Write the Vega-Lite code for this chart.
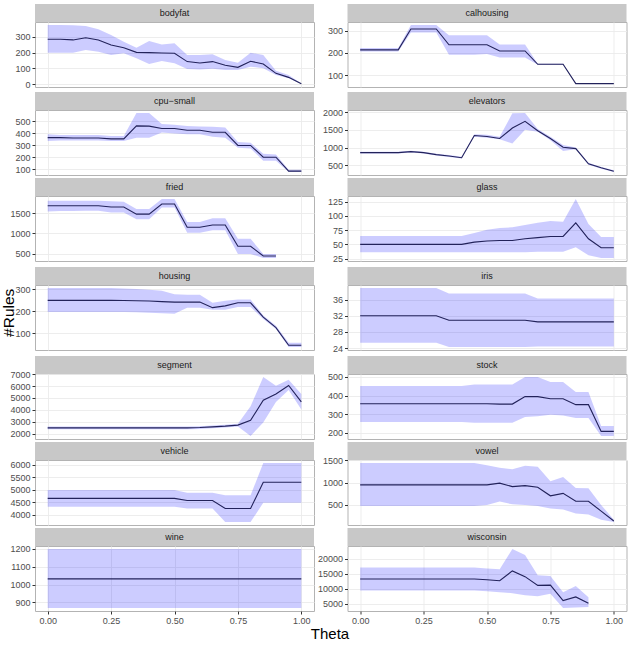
{
"$schema": "https://vega.github.io/schema/vega-lite/v6.json",
"padding": {"left": 1, "right": 4, "top": 4, "bottom": 0},
"title": {"text": "#Rules", "orient": "left", "anchor": "middle", "fontSize": 15.5, "fontWeight": "normal", "color": "#000000", "font": "Liberation Sans", "offset": -8.5, "dx": 10},
"datasets": {"d": [
{"d":"bodyfat","t":0,"m":283,"l":199,"h":373},{"d":"bodyfat","t":0.05,"m":283,"l":199,"h":373},{"d":"bodyfat","t":0.1,"m":279,"l":199,"h":371},{"d":"bodyfat","t":0.15,"m":293,"l":216,"h":367},{"d":"bodyfat","t":0.2,"m":279,"l":205,"h":346},{"d":"bodyfat","t":0.25,"m":247,"l":184,"h":310},{"d":"bodyfat","t":0.3,"m":230,"l":195,"h":268},{"d":"bodyfat","t":0.35,"m":201,"l":164,"h":230},{"d":"bodyfat","t":0.4,"m":199,"l":128,"h":272},{"d":"bodyfat","t":0.45,"m":197,"l":147,"h":251},{"d":"bodyfat","t":0.5,"m":195,"l":132,"h":258},{"d":"bodyfat","t":0.55,"m":143,"l":96,"h":184},{"d":"bodyfat","t":0.6,"m":134,"l":94,"h":184},{"d":"bodyfat","t":0.65,"m":143,"l":98,"h":189},{"d":"bodyfat","t":0.7,"m":120,"l":90,"h":153},{"d":"bodyfat","t":0.75,"m":107,"l":90,"h":136},{"d":"bodyfat","t":0.8,"m":145,"l":111,"h":199},{"d":"bodyfat","t":0.85,"m":128,"l":101,"h":184},{"d":"bodyfat","t":0.9,"m":69,"l":59,"h":86},{"d":"bodyfat","t":0.95,"m":44,"l":38,"h":59},{"d":"bodyfat","t":1,"m":4,"l":2,"h":6},
{"d":"cpu-small","t":0,"m":362,"l":334,"h":390},{"d":"cpu-small","t":0.05,"m":362,"l":339,"h":385},{"d":"cpu-small","t":0.1,"m":359,"l":339,"h":385},{"d":"cpu-small","t":0.15,"m":359,"l":339,"h":385},{"d":"cpu-small","t":0.2,"m":359,"l":339,"h":385},{"d":"cpu-small","t":0.25,"m":352,"l":334,"h":376},{"d":"cpu-small","t":0.3,"m":352,"l":334,"h":376},{"d":"cpu-small","t":0.35,"m":460,"l":362,"h":568},{"d":"cpu-small","t":0.4,"m":458,"l":362,"h":568},{"d":"cpu-small","t":0.45,"m":438,"l":404,"h":475},{"d":"cpu-small","t":0.5,"m":438,"l":396,"h":469},{"d":"cpu-small","t":0.55,"m":424,"l":390,"h":460},{"d":"cpu-small","t":0.6,"m":424,"l":390,"h":455},{"d":"cpu-small","t":0.65,"m":407,"l":370,"h":452},{"d":"cpu-small","t":0.7,"m":407,"l":362,"h":446},{"d":"cpu-small","t":0.75,"m":297,"l":277,"h":325},{"d":"cpu-small","t":0.8,"m":297,"l":272,"h":320},{"d":"cpu-small","t":0.85,"m":199,"l":170,"h":227},{"d":"cpu-small","t":0.9,"m":199,"l":170,"h":221},{"d":"cpu-small","t":0.95,"m":83,"l":75,"h":94},{"d":"cpu-small","t":1,"m":83,"l":75,"h":94},
{"d":"calhousing","t":0,"m":214,"l":206,"h":222},{"d":"calhousing","t":0.05,"m":214,"l":206,"h":222},{"d":"calhousing","t":0.1,"m":214,"l":206,"h":222},{"d":"calhousing","t":0.15,"m":214,"l":206,"h":222},{"d":"calhousing","t":0.2,"m":308,"l":292,"h":326},{"d":"calhousing","t":0.25,"m":308,"l":292,"h":326},{"d":"calhousing","t":0.3,"m":308,"l":292,"h":326},{"d":"calhousing","t":0.35,"m":237,"l":192,"h":280},{"d":"calhousing","t":0.4,"m":237,"l":192,"h":280},{"d":"calhousing","t":0.45,"m":237,"l":192,"h":280},{"d":"calhousing","t":0.5,"m":237,"l":195,"h":280},{"d":"calhousing","t":0.55,"m":209,"l":180,"h":238},{"d":"calhousing","t":0.6,"m":209,"l":180,"h":238},{"d":"calhousing","t":0.65,"m":209,"l":180,"h":238},{"d":"calhousing","t":0.7,"m":149,"l":147,"h":151},{"d":"calhousing","t":0.75,"m":149,"l":147,"h":151},{"d":"calhousing","t":0.8,"m":149,"l":147,"h":151},{"d":"calhousing","t":0.85,"m":62,"l":60,"h":64},{"d":"calhousing","t":0.9,"m":62,"l":60,"h":64},{"d":"calhousing","t":0.95,"m":62,"l":60,"h":64},{"d":"calhousing","t":1,"m":62,"l":60,"h":64},
{"d":"elevators","t":0,"m":861,"l":836,"h":886},{"d":"elevators","t":0.05,"m":861,"l":836,"h":886},{"d":"elevators","t":0.1,"m":861,"l":836,"h":886},{"d":"elevators","t":0.15,"m":861,"l":836,"h":886},{"d":"elevators","t":0.2,"m":889,"l":864,"h":914},{"d":"elevators","t":0.25,"m":861,"l":836,"h":886},{"d":"elevators","t":0.3,"m":804,"l":779,"h":829},{"d":"elevators","t":0.35,"m":766,"l":741,"h":791},{"d":"elevators","t":0.4,"m":718,"l":693,"h":743},{"d":"elevators","t":0.45,"m":1345,"l":1310,"h":1383},{"d":"elevators","t":0.5,"m":1317,"l":1280,"h":1364},{"d":"elevators","t":0.55,"m":1260,"l":1240,"h":1307},{"d":"elevators","t":0.6,"m":1554,"l":1117,"h":1972},{"d":"elevators","t":0.65,"m":1744,"l":1507,"h":1981},{"d":"elevators","t":0.7,"m":1478,"l":1450,"h":1525},{"d":"elevators","t":0.75,"m":1260,"l":1212,"h":1307},{"d":"elevators","t":0.8,"m":1013,"l":908,"h":1079},{"d":"elevators","t":0.85,"m":975,"l":956,"h":1003},{"d":"elevators","t":0.9,"m":547,"l":522,"h":572},{"d":"elevators","t":0.95,"m":434,"l":409,"h":459},{"d":"elevators","t":1,"m":338,"l":313,"h":363},
{"d":"fried","t":0,"m":1683,"l":1542,"h":1808},{"d":"fried","t":0.05,"m":1683,"l":1550,"h":1808},{"d":"fried","t":0.1,"m":1683,"l":1550,"h":1808},{"d":"fried","t":0.15,"m":1683,"l":1558,"h":1808},{"d":"fried","t":0.2,"m":1683,"l":1558,"h":1808},{"d":"fried","t":0.25,"m":1650,"l":1517,"h":1792},{"d":"fried","t":0.3,"m":1650,"l":1517,"h":1783},{"d":"fried","t":0.35,"m":1475,"l":1350,"h":1600},{"d":"fried","t":0.4,"m":1475,"l":1350,"h":1600},{"d":"fried","t":0.45,"m":1725,"l":1642,"h":1850},{"d":"fried","t":0.5,"m":1725,"l":1642,"h":1850},{"d":"fried","t":0.55,"m":1150,"l":1017,"h":1283},{"d":"fried","t":0.6,"m":1150,"l":1017,"h":1283},{"d":"fried","t":0.65,"m":1208,"l":1075,"h":1375},{"d":"fried","t":0.7,"m":1208,"l":1075,"h":1375},{"d":"fried","t":0.75,"m":683,"l":492,"h":867},{"d":"fried","t":0.8,"m":683,"l":492,"h":867},{"d":"fried","t":0.85,"m":442,"l":392,"h":492},{"d":"fried","t":0.9,"m":442,"l":392,"h":492},
{"d":"glass","t":0,"m":50,"l":36,"h":65},{"d":"glass","t":0.05,"m":50,"l":36,"h":65},{"d":"glass","t":0.1,"m":50,"l":36,"h":65},{"d":"glass","t":0.15,"m":50,"l":36,"h":65},{"d":"glass","t":0.2,"m":50,"l":36,"h":65},{"d":"glass","t":0.25,"m":50,"l":36,"h":65},{"d":"glass","t":0.3,"m":50,"l":36,"h":65},{"d":"glass","t":0.35,"m":50,"l":36,"h":65},{"d":"glass","t":0.4,"m":50,"l":36,"h":65},{"d":"glass","t":0.45,"m":54,"l":36,"h":70},{"d":"glass","t":0.5,"m":56,"l":36,"h":76},{"d":"glass","t":0.55,"m":57,"l":36,"h":79},{"d":"glass","t":0.6,"m":57,"l":36,"h":80},{"d":"glass","t":0.65,"m":60,"l":36,"h":84},{"d":"glass","t":0.7,"m":62,"l":37,"h":88},{"d":"glass","t":0.75,"m":64,"l":37,"h":91},{"d":"glass","t":0.8,"m":64,"l":37,"h":90},{"d":"glass","t":0.85,"m":88,"l":45,"h":130},{"d":"glass","t":0.9,"m":60,"l":31,"h":86},{"d":"glass","t":0.95,"m":44,"l":26,"h":63},{"d":"glass","t":1,"m":44,"l":26,"h":63},
{"d":"housing","t":0,"m":249,"l":196,"h":305},{"d":"housing","t":0.05,"m":249,"l":196,"h":305},{"d":"housing","t":0.1,"m":249,"l":196,"h":305},{"d":"housing","t":0.15,"m":249,"l":196,"h":305},{"d":"housing","t":0.2,"m":249,"l":196,"h":305},{"d":"housing","t":0.25,"m":249,"l":196,"h":305},{"d":"housing","t":0.3,"m":248,"l":196,"h":303},{"d":"housing","t":0.35,"m":247,"l":195,"h":300},{"d":"housing","t":0.4,"m":246,"l":193,"h":297},{"d":"housing","t":0.45,"m":243,"l":191,"h":292},{"d":"housing","t":0.5,"m":241,"l":188,"h":277},{"d":"housing","t":0.55,"m":241,"l":215,"h":274},{"d":"housing","t":0.6,"m":241,"l":215,"h":274},{"d":"housing","t":0.65,"m":216,"l":207,"h":238},{"d":"housing","t":0.7,"m":224,"l":207,"h":247},{"d":"housing","t":0.75,"m":238,"l":219,"h":253},{"d":"housing","t":0.8,"m":238,"l":219,"h":253},{"d":"housing","t":0.85,"m":173,"l":165,"h":181},{"d":"housing","t":0.9,"m":126,"l":119,"h":134},{"d":"housing","t":0.95,"m":46,"l":38,"h":57},{"d":"housing","t":1,"m":46,"l":38,"h":57},
{"d":"iris","t":0,"m":32,"l":25.3,"h":38.9},{"d":"iris","t":0.05,"m":32,"l":25.3,"h":38.9},{"d":"iris","t":0.1,"m":32,"l":25.3,"h":38.9},{"d":"iris","t":0.15,"m":32,"l":25.3,"h":38.9},{"d":"iris","t":0.2,"m":32,"l":25.3,"h":38.9},{"d":"iris","t":0.25,"m":32,"l":25.3,"h":38.9},{"d":"iris","t":0.3,"m":32,"l":25.3,"h":38.9},{"d":"iris","t":0.35,"m":30.9,"l":24.25,"h":37.5},{"d":"iris","t":0.4,"m":30.9,"l":24.25,"h":37.5},{"d":"iris","t":0.45,"m":30.9,"l":24.25,"h":37.5},{"d":"iris","t":0.5,"m":30.9,"l":24.25,"h":37.5},{"d":"iris","t":0.55,"m":30.9,"l":24.25,"h":37.5},{"d":"iris","t":0.6,"m":30.9,"l":24.25,"h":37.5},{"d":"iris","t":0.65,"m":30.9,"l":24.25,"h":37.5},{"d":"iris","t":0.7,"m":30.5,"l":24.4,"h":36.3},{"d":"iris","t":0.75,"m":30.5,"l":24.4,"h":36.3},{"d":"iris","t":0.8,"m":30.5,"l":24.4,"h":36.3},{"d":"iris","t":0.85,"m":30.5,"l":24.4,"h":36.3},{"d":"iris","t":0.9,"m":30.5,"l":24.4,"h":36.3},{"d":"iris","t":0.95,"m":30.5,"l":24.4,"h":36.3},{"d":"iris","t":1,"m":30.5,"l":24.4,"h":36.3},
{"d":"segment","t":0,"m":2490,"l":2373,"h":2600},{"d":"segment","t":0.05,"m":2490,"l":2373,"h":2600},{"d":"segment","t":0.1,"m":2490,"l":2373,"h":2600},{"d":"segment","t":0.15,"m":2490,"l":2373,"h":2600},{"d":"segment","t":0.2,"m":2490,"l":2373,"h":2600},{"d":"segment","t":0.25,"m":2490,"l":2373,"h":2600},{"d":"segment","t":0.3,"m":2490,"l":2373,"h":2600},{"d":"segment","t":0.35,"m":2490,"l":2373,"h":2600},{"d":"segment","t":0.4,"m":2490,"l":2373,"h":2600},{"d":"segment","t":0.45,"m":2490,"l":2373,"h":2600},{"d":"segment","t":0.5,"m":2490,"l":2373,"h":2600},{"d":"segment","t":0.55,"m":2490,"l":2373,"h":2600},{"d":"segment","t":0.6,"m":2517,"l":2400,"h":2630},{"d":"segment","t":0.65,"m":2575,"l":2460,"h":2690},{"d":"segment","t":0.7,"m":2632,"l":2520,"h":2740},{"d":"segment","t":0.75,"m":2718,"l":2600,"h":2833},{"d":"segment","t":0.8,"m":3120,"l":1800,"h":4300},{"d":"segment","t":0.85,"m":4816,"l":2950,"h":6770},{"d":"segment","t":0.9,"m":5333,"l":4672,"h":6023},{"d":"segment","t":0.95,"m":6052,"l":5678,"h":6540},{"d":"segment","t":1,"m":4672,"l":4040,"h":5333},
{"d":"stock","t":0,"m":356,"l":257,"h":451},{"d":"stock","t":0.05,"m":356,"l":257,"h":451},{"d":"stock","t":0.1,"m":356,"l":257,"h":451},{"d":"stock","t":0.15,"m":356,"l":257,"h":451},{"d":"stock","t":0.2,"m":356,"l":257,"h":451},{"d":"stock","t":0.25,"m":356,"l":257,"h":451},{"d":"stock","t":0.3,"m":356,"l":257,"h":451},{"d":"stock","t":0.35,"m":356,"l":257,"h":451},{"d":"stock","t":0.4,"m":356,"l":257,"h":451},{"d":"stock","t":0.45,"m":356,"l":254,"h":459},{"d":"stock","t":0.5,"m":356,"l":254,"h":459},{"d":"stock","t":0.55,"m":354,"l":254,"h":459},{"d":"stock","t":0.6,"m":354,"l":254,"h":460},{"d":"stock","t":0.65,"m":394,"l":284,"h":500},{"d":"stock","t":0.7,"m":394,"l":288,"h":500},{"d":"stock","t":0.75,"m":383,"l":297,"h":473},{"d":"stock","t":0.8,"m":383,"l":293,"h":473},{"d":"stock","t":0.85,"m":351,"l":279,"h":419},{"d":"stock","t":0.9,"m":351,"l":279,"h":419},{"d":"stock","t":0.95,"m":207,"l":182,"h":236},{"d":"stock","t":1,"m":207,"l":182,"h":236},
{"d":"vehicle","t":0,"m":4658,"l":4322,"h":4993},{"d":"vehicle","t":0.05,"m":4658,"l":4322,"h":4993},{"d":"vehicle","t":0.1,"m":4658,"l":4322,"h":4993},{"d":"vehicle","t":0.15,"m":4658,"l":4322,"h":4993},{"d":"vehicle","t":0.2,"m":4658,"l":4322,"h":4993},{"d":"vehicle","t":0.25,"m":4658,"l":4322,"h":4993},{"d":"vehicle","t":0.3,"m":4658,"l":4322,"h":4993},{"d":"vehicle","t":0.35,"m":4658,"l":4322,"h":4993},{"d":"vehicle","t":0.4,"m":4658,"l":4322,"h":4993},{"d":"vehicle","t":0.45,"m":4658,"l":4322,"h":4993},{"d":"vehicle","t":0.5,"m":4658,"l":4322,"h":4993},{"d":"vehicle","t":0.55,"m":4577,"l":4255,"h":4886},{"d":"vehicle","t":0.6,"m":4577,"l":4255,"h":4886},{"d":"vehicle","t":0.65,"m":4577,"l":4255,"h":4886},{"d":"vehicle","t":0.7,"m":4255,"l":3718,"h":4779},{"d":"vehicle","t":0.75,"m":4255,"l":3718,"h":4779},{"d":"vehicle","t":0.8,"m":4255,"l":3718,"h":4779},{"d":"vehicle","t":0.85,"m":5302,"l":4483,"h":6067},{"d":"vehicle","t":0.9,"m":5302,"l":4483,"h":6067},{"d":"vehicle","t":0.95,"m":5302,"l":4483,"h":6067},{"d":"vehicle","t":1,"m":5302,"l":4483,"h":6067},
{"d":"vowel","t":0,"m":950,"l":477,"h":1442},{"d":"vowel","t":0.05,"m":950,"l":477,"h":1442},{"d":"vowel","t":0.1,"m":950,"l":477,"h":1442},{"d":"vowel","t":0.15,"m":950,"l":477,"h":1442},{"d":"vowel","t":0.2,"m":950,"l":477,"h":1442},{"d":"vowel","t":0.25,"m":950,"l":477,"h":1442},{"d":"vowel","t":0.3,"m":950,"l":477,"h":1442},{"d":"vowel","t":0.35,"m":950,"l":477,"h":1442},{"d":"vowel","t":0.4,"m":950,"l":477,"h":1442},{"d":"vowel","t":0.45,"m":950,"l":477,"h":1442},{"d":"vowel","t":0.5,"m":950,"l":500,"h":1393},{"d":"vowel","t":0.55,"m":989,"l":576,"h":1332},{"d":"vowel","t":0.6,"m":912,"l":515,"h":1302},{"d":"vowel","t":0.65,"m":935,"l":500,"h":1378},{"d":"vowel","t":0.7,"m":897,"l":477,"h":1355},{"d":"vowel","t":0.75,"m":706,"l":424,"h":1034},{"d":"vowel","t":0.8,"m":760,"l":401,"h":1126},{"d":"vowel","t":0.85,"m":584,"l":309,"h":882},{"d":"vowel","t":0.9,"m":584,"l":286,"h":874},{"d":"vowel","t":0.95,"m":363,"l":172,"h":500},{"d":"vowel","t":1,"m":141,"l":118,"h":172},
{"d":"wine","t":0,"m":1032,"l":868,"h":1200},{"d":"wine","t":0.05,"m":1032,"l":868,"h":1200},{"d":"wine","t":0.1,"m":1032,"l":868,"h":1200},{"d":"wine","t":0.15,"m":1032,"l":868,"h":1200},{"d":"wine","t":0.2,"m":1032,"l":868,"h":1200},{"d":"wine","t":0.25,"m":1032,"l":868,"h":1200},{"d":"wine","t":0.3,"m":1032,"l":868,"h":1200},{"d":"wine","t":0.35,"m":1032,"l":868,"h":1200},{"d":"wine","t":0.4,"m":1032,"l":868,"h":1200},{"d":"wine","t":0.45,"m":1032,"l":868,"h":1200},{"d":"wine","t":0.5,"m":1032,"l":868,"h":1200},{"d":"wine","t":0.55,"m":1032,"l":868,"h":1200},{"d":"wine","t":0.6,"m":1032,"l":868,"h":1200},{"d":"wine","t":0.65,"m":1032,"l":868,"h":1200},{"d":"wine","t":0.7,"m":1032,"l":868,"h":1200},{"d":"wine","t":0.75,"m":1032,"l":868,"h":1200},{"d":"wine","t":0.8,"m":1032,"l":868,"h":1200},{"d":"wine","t":0.85,"m":1032,"l":868,"h":1200},{"d":"wine","t":0.9,"m":1032,"l":868,"h":1200},{"d":"wine","t":0.95,"m":1032,"l":868,"h":1200},{"d":"wine","t":1,"m":1032,"l":868,"h":1200},
{"d":"wisconsin","t":0,"m":13277,"l":9474,"h":17080},{"d":"wisconsin","t":0.05,"m":13277,"l":9474,"h":17080},{"d":"wisconsin","t":0.1,"m":13277,"l":9474,"h":17080},{"d":"wisconsin","t":0.15,"m":13277,"l":9474,"h":17080},{"d":"wisconsin","t":0.2,"m":13277,"l":9474,"h":17080},{"d":"wisconsin","t":0.25,"m":13277,"l":9474,"h":17080},{"d":"wisconsin","t":0.3,"m":13277,"l":9474,"h":17080},{"d":"wisconsin","t":0.35,"m":13277,"l":9474,"h":17080},{"d":"wisconsin","t":0.4,"m":13277,"l":9474,"h":17080},{"d":"wisconsin","t":0.45,"m":13277,"l":9474,"h":17080},{"d":"wisconsin","t":0.5,"m":13054,"l":9250,"h":16745},{"d":"wisconsin","t":0.55,"m":12718,"l":8915,"h":16521},{"d":"wisconsin","t":0.6,"m":15962,"l":8580,"h":23233},{"d":"wisconsin","t":0.65,"m":14060,"l":7908,"h":21219},{"d":"wisconsin","t":0.7,"m":11152,"l":7573,"h":14508},{"d":"wisconsin","t":0.75,"m":11264,"l":8356,"h":14284},{"d":"wisconsin","t":0.8,"m":6119,"l":3658,"h":8915},{"d":"wisconsin","t":0.85,"m":7349,"l":3881,"h":10928},{"d":"wisconsin","t":0.9,"m":5224,"l":3993,"h":7237}
]},
"data": {"name": "d"},
"spacing": 2,
"vconcat": [
{"hconcat": [
 {"vconcat": [
  {"data": {"values": [{"n": "bodyfat"}]}, "width": 279, "height": 18, "view": {"fill": "#c8c8c8", "stroke": null}, "mark": {"type": "text", "fontSize": 9, "color": "#1a1a1a"}, "encoding": {"text": {"field": "n"}}},
  {"width": 279, "height": 65, "transform": [{"filter": "datum.d === 'bodyfat'"}],
   "encoding": {"x": {"field": "t", "type": "quantitative", "scale": {"domain": [-0.05, 1.05], "nice": false, "zero": false}, "axis": {"values": [0, 0.25, 0.5, 0.75, 1], "labels": false, "ticks": false, "title": null}}},
   "layer": [
    {"mark": {"type": "area", "color": "#0000ff", "opacity": 0.2}, "encoding": {"y": {"field": "l", "type": "quantitative", "scale": {"zero": false, "nice": false, "padding": 2.95}, "axis": {"values": [0, 100, 200, 300], "title": null, "minExtent": 26, "maxExtent": 26}}, "y2": {"field": "h"}}},
    {"mark": {"type": "line", "color": "#22225a", "strokeWidth": 1.1}, "encoding": {"y": {"field": "m", "type": "quantitative", "axis": {"values": [0, 100, 200, 300], "title": null, "minExtent": 26, "maxExtent": 26}}}}
   ]}
 ], "spacing": 0, "bounds": "flush"},
 {"vconcat": [
  {"data": {"values": [{"n": "calhousing"}]}, "width": 279, "height": 18, "view": {"fill": "#c8c8c8", "stroke": null}, "mark": {"type": "text", "fontSize": 9, "color": "#1a1a1a"}, "encoding": {"text": {"field": "n"}}},
  {"width": 279, "height": 65, "transform": [{"filter": "datum.d === 'calhousing'"}],
   "encoding": {"x": {"field": "t", "type": "quantitative", "scale": {"domain": [-0.05, 1.05], "nice": false, "zero": false}, "axis": {"values": [0, 0.25, 0.5, 0.75, 1], "labels": false, "ticks": false, "title": null}}},
   "layer": [
    {"mark": {"type": "area", "color": "#0000ff", "opacity": 0.2}, "encoding": {"y": {"field": "l", "type": "quantitative", "scale": {"zero": false, "nice": false, "padding": 2.95}, "axis": {"values": [100, 200, 300], "title": null, "minExtent": 38, "maxExtent": 38}}, "y2": {"field": "h"}}},
    {"mark": {"type": "line", "color": "#22225a", "strokeWidth": 1.1}, "encoding": {"y": {"field": "m", "type": "quantitative", "axis": {"values": [100, 200, 300], "title": null, "minExtent": 38, "maxExtent": 38}}}}
   ]}
 ], "spacing": 0, "bounds": "flush"}
], "spacing": -6.5},
{"hconcat": [
 {"vconcat": [
  {"data": {"values": [{"n": "cpu−small"}]}, "width": 279, "height": 18, "view": {"fill": "#c8c8c8", "stroke": null}, "mark": {"type": "text", "fontSize": 9, "color": "#1a1a1a"}, "encoding": {"text": {"field": "n"}}},
  {"width": 279, "height": 65, "transform": [{"filter": "datum.d === 'cpu-small'"}],
   "encoding": {"x": {"field": "t", "type": "quantitative", "scale": {"domain": [-0.05, 1.05], "nice": false, "zero": false}, "axis": {"values": [0, 0.25, 0.5, 0.75, 1], "labels": false, "ticks": false, "title": null}}},
   "layer": [
    {"mark": {"type": "area", "color": "#0000ff", "opacity": 0.2}, "encoding": {"y": {"field": "l", "type": "quantitative", "scale": {"zero": false, "nice": false, "padding": 2.95}, "axis": {"values": [100, 200, 300, 400, 500], "title": null, "minExtent": 26, "maxExtent": 26}}, "y2": {"field": "h"}}},
    {"mark": {"type": "line", "color": "#22225a", "strokeWidth": 1.1}, "encoding": {"y": {"field": "m", "type": "quantitative", "axis": {"values": [100, 200, 300, 400, 500], "title": null, "minExtent": 26, "maxExtent": 26}}}}
   ]}
 ], "spacing": 0, "bounds": "flush"},
 {"vconcat": [
  {"data": {"values": [{"n": "elevators"}]}, "width": 279, "height": 18, "view": {"fill": "#c8c8c8", "stroke": null}, "mark": {"type": "text", "fontSize": 9, "color": "#1a1a1a"}, "encoding": {"text": {"field": "n"}}},
  {"width": 279, "height": 65, "transform": [{"filter": "datum.d === 'elevators'"}],
   "encoding": {"x": {"field": "t", "type": "quantitative", "scale": {"domain": [-0.05, 1.05], "nice": false, "zero": false}, "axis": {"values": [0, 0.25, 0.5, 0.75, 1], "labels": false, "ticks": false, "title": null}}},
   "layer": [
    {"mark": {"type": "area", "color": "#0000ff", "opacity": 0.2}, "encoding": {"y": {"field": "l", "type": "quantitative", "scale": {"zero": false, "nice": false, "padding": 2.95}, "axis": {"values": [500, 1000, 1500, 2000], "title": null, "minExtent": 38, "maxExtent": 38}}, "y2": {"field": "h"}}},
    {"mark": {"type": "line", "color": "#22225a", "strokeWidth": 1.1}, "encoding": {"y": {"field": "m", "type": "quantitative", "axis": {"values": [500, 1000, 1500, 2000], "title": null, "minExtent": 38, "maxExtent": 38}}}}
   ]}
 ], "spacing": 0, "bounds": "flush"}
], "spacing": -6.5},
{"hconcat": [
 {"vconcat": [
  {"data": {"values": [{"n": "fried"}]}, "width": 279, "height": 18, "view": {"fill": "#c8c8c8", "stroke": null}, "mark": {"type": "text", "fontSize": 9, "color": "#1a1a1a"}, "encoding": {"text": {"field": "n"}}},
  {"width": 279, "height": 65, "transform": [{"filter": "datum.d === 'fried'"}],
   "encoding": {"x": {"field": "t", "type": "quantitative", "scale": {"domain": [-0.05, 1.05], "nice": false, "zero": false}, "axis": {"values": [0, 0.25, 0.5, 0.75, 1], "labels": false, "ticks": false, "title": null}}},
   "layer": [
    {"mark": {"type": "area", "color": "#0000ff", "opacity": 0.2}, "encoding": {"y": {"field": "l", "type": "quantitative", "scale": {"zero": false, "nice": false, "padding": 2.95}, "axis": {"values": [500, 1000, 1500], "title": null, "minExtent": 26, "maxExtent": 26}}, "y2": {"field": "h"}}},
    {"mark": {"type": "line", "color": "#22225a", "strokeWidth": 1.1}, "encoding": {"y": {"field": "m", "type": "quantitative", "axis": {"values": [500, 1000, 1500], "title": null, "minExtent": 26, "maxExtent": 26}}}}
   ]}
 ], "spacing": 0, "bounds": "flush"},
 {"vconcat": [
  {"data": {"values": [{"n": "glass"}]}, "width": 279, "height": 18, "view": {"fill": "#c8c8c8", "stroke": null}, "mark": {"type": "text", "fontSize": 9, "color": "#1a1a1a"}, "encoding": {"text": {"field": "n"}}},
  {"width": 279, "height": 65, "transform": [{"filter": "datum.d === 'glass'"}],
   "encoding": {"x": {"field": "t", "type": "quantitative", "scale": {"domain": [-0.05, 1.05], "nice": false, "zero": false}, "axis": {"values": [0, 0.25, 0.5, 0.75, 1], "labels": false, "ticks": false, "title": null}}},
   "layer": [
    {"mark": {"type": "area", "color": "#0000ff", "opacity": 0.2}, "encoding": {"y": {"field": "l", "type": "quantitative", "scale": {"zero": false, "nice": false, "padding": 2.95}, "axis": {"values": [25, 50, 75, 100, 125], "title": null, "minExtent": 38, "maxExtent": 38}}, "y2": {"field": "h"}}},
    {"mark": {"type": "line", "color": "#22225a", "strokeWidth": 1.1}, "encoding": {"y": {"field": "m", "type": "quantitative", "axis": {"values": [25, 50, 75, 100, 125], "title": null, "minExtent": 38, "maxExtent": 38}}}}
   ]}
 ], "spacing": 0, "bounds": "flush"}
], "spacing": -6.5},
{"hconcat": [
 {"vconcat": [
  {"data": {"values": [{"n": "housing"}]}, "width": 279, "height": 18, "view": {"fill": "#c8c8c8", "stroke": null}, "mark": {"type": "text", "fontSize": 9, "color": "#1a1a1a"}, "encoding": {"text": {"field": "n"}}},
  {"width": 279, "height": 65, "transform": [{"filter": "datum.d === 'housing'"}],
   "encoding": {"x": {"field": "t", "type": "quantitative", "scale": {"domain": [-0.05, 1.05], "nice": false, "zero": false}, "axis": {"values": [0, 0.25, 0.5, 0.75, 1], "labels": false, "ticks": false, "title": null}}},
   "layer": [
    {"mark": {"type": "area", "color": "#0000ff", "opacity": 0.2}, "encoding": {"y": {"field": "l", "type": "quantitative", "scale": {"zero": false, "nice": false, "padding": 2.95}, "axis": {"values": [100, 200, 300], "title": null, "minExtent": 26, "maxExtent": 26}}, "y2": {"field": "h"}}},
    {"mark": {"type": "line", "color": "#22225a", "strokeWidth": 1.1}, "encoding": {"y": {"field": "m", "type": "quantitative", "axis": {"values": [100, 200, 300], "title": null, "minExtent": 26, "maxExtent": 26}}}}
   ]}
 ], "spacing": 0, "bounds": "flush"},
 {"vconcat": [
  {"data": {"values": [{"n": "iris"}]}, "width": 279, "height": 18, "view": {"fill": "#c8c8c8", "stroke": null}, "mark": {"type": "text", "fontSize": 9, "color": "#1a1a1a"}, "encoding": {"text": {"field": "n"}}},
  {"width": 279, "height": 65, "transform": [{"filter": "datum.d === 'iris'"}],
   "encoding": {"x": {"field": "t", "type": "quantitative", "scale": {"domain": [-0.05, 1.05], "nice": false, "zero": false}, "axis": {"values": [0, 0.25, 0.5, 0.75, 1], "labels": false, "ticks": false, "title": null}}},
   "layer": [
    {"mark": {"type": "area", "color": "#0000ff", "opacity": 0.2}, "encoding": {"y": {"field": "l", "type": "quantitative", "scale": {"zero": false, "nice": false, "padding": 2.95}, "axis": {"values": [24, 28, 32, 36], "title": null, "minExtent": 38, "maxExtent": 38}}, "y2": {"field": "h"}}},
    {"mark": {"type": "line", "color": "#22225a", "strokeWidth": 1.1}, "encoding": {"y": {"field": "m", "type": "quantitative", "axis": {"values": [24, 28, 32, 36], "title": null, "minExtent": 38, "maxExtent": 38}}}}
   ]}
 ], "spacing": 0, "bounds": "flush"}
], "spacing": -6.5},
{"hconcat": [
 {"vconcat": [
  {"data": {"values": [{"n": "segment"}]}, "width": 279, "height": 18, "view": {"fill": "#c8c8c8", "stroke": null}, "mark": {"type": "text", "fontSize": 9, "color": "#1a1a1a"}, "encoding": {"text": {"field": "n"}}},
  {"width": 279, "height": 65, "transform": [{"filter": "datum.d === 'segment'"}],
   "encoding": {"x": {"field": "t", "type": "quantitative", "scale": {"domain": [-0.05, 1.05], "nice": false, "zero": false}, "axis": {"values": [0, 0.25, 0.5, 0.75, 1], "labels": false, "ticks": false, "title": null}}},
   "layer": [
    {"mark": {"type": "area", "color": "#0000ff", "opacity": 0.2}, "encoding": {"y": {"field": "l", "type": "quantitative", "scale": {"zero": false, "nice": false, "padding": 2.95}, "axis": {"values": [2000, 3000, 4000, 5000, 6000, 7000], "title": null, "minExtent": 26, "maxExtent": 26}}, "y2": {"field": "h"}}},
    {"mark": {"type": "line", "color": "#22225a", "strokeWidth": 1.1}, "encoding": {"y": {"field": "m", "type": "quantitative", "axis": {"values": [2000, 3000, 4000, 5000, 6000, 7000], "title": null, "minExtent": 26, "maxExtent": 26}}}}
   ]}
 ], "spacing": 0, "bounds": "flush"},
 {"vconcat": [
  {"data": {"values": [{"n": "stock"}]}, "width": 279, "height": 18, "view": {"fill": "#c8c8c8", "stroke": null}, "mark": {"type": "text", "fontSize": 9, "color": "#1a1a1a"}, "encoding": {"text": {"field": "n"}}},
  {"width": 279, "height": 65, "transform": [{"filter": "datum.d === 'stock'"}],
   "encoding": {"x": {"field": "t", "type": "quantitative", "scale": {"domain": [-0.05, 1.05], "nice": false, "zero": false}, "axis": {"values": [0, 0.25, 0.5, 0.75, 1], "labels": false, "ticks": false, "title": null}}},
   "layer": [
    {"mark": {"type": "area", "color": "#0000ff", "opacity": 0.2}, "encoding": {"y": {"field": "l", "type": "quantitative", "scale": {"zero": false, "nice": false, "padding": 2.95}, "axis": {"values": [200, 300, 400, 500], "title": null, "minExtent": 38, "maxExtent": 38}}, "y2": {"field": "h"}}},
    {"mark": {"type": "line", "color": "#22225a", "strokeWidth": 1.1}, "encoding": {"y": {"field": "m", "type": "quantitative", "axis": {"values": [200, 300, 400, 500], "title": null, "minExtent": 38, "maxExtent": 38}}}}
   ]}
 ], "spacing": 0, "bounds": "flush"}
], "spacing": -6.5},
{"hconcat": [
 {"vconcat": [
  {"data": {"values": [{"n": "vehicle"}]}, "width": 279, "height": 18, "view": {"fill": "#c8c8c8", "stroke": null}, "mark": {"type": "text", "fontSize": 9, "color": "#1a1a1a"}, "encoding": {"text": {"field": "n"}}},
  {"width": 279, "height": 65, "transform": [{"filter": "datum.d === 'vehicle'"}],
   "encoding": {"x": {"field": "t", "type": "quantitative", "scale": {"domain": [-0.05, 1.05], "nice": false, "zero": false}, "axis": {"values": [0, 0.25, 0.5, 0.75, 1], "labels": false, "ticks": false, "title": null}}},
   "layer": [
    {"mark": {"type": "area", "color": "#0000ff", "opacity": 0.2}, "encoding": {"y": {"field": "l", "type": "quantitative", "scale": {"zero": false, "nice": false, "padding": 2.95}, "axis": {"values": [4000, 4500, 5000, 5500, 6000], "title": null, "minExtent": 26, "maxExtent": 26}}, "y2": {"field": "h"}}},
    {"mark": {"type": "line", "color": "#22225a", "strokeWidth": 1.1}, "encoding": {"y": {"field": "m", "type": "quantitative", "axis": {"values": [4000, 4500, 5000, 5500, 6000], "title": null, "minExtent": 26, "maxExtent": 26}}}}
   ]}
 ], "spacing": 0, "bounds": "flush"},
 {"vconcat": [
  {"data": {"values": [{"n": "vowel"}]}, "width": 279, "height": 18, "view": {"fill": "#c8c8c8", "stroke": null}, "mark": {"type": "text", "fontSize": 9, "color": "#1a1a1a"}, "encoding": {"text": {"field": "n"}}},
  {"width": 279, "height": 65, "transform": [{"filter": "datum.d === 'vowel'"}],
   "encoding": {"x": {"field": "t", "type": "quantitative", "scale": {"domain": [-0.05, 1.05], "nice": false, "zero": false}, "axis": {"values": [0, 0.25, 0.5, 0.75, 1], "labels": false, "ticks": false, "title": null}}},
   "layer": [
    {"mark": {"type": "area", "color": "#0000ff", "opacity": 0.2}, "encoding": {"y": {"field": "l", "type": "quantitative", "scale": {"zero": false, "nice": false, "padding": 2.95}, "axis": {"values": [500, 1000, 1500], "title": null, "minExtent": 38, "maxExtent": 38}}, "y2": {"field": "h"}}},
    {"mark": {"type": "line", "color": "#22225a", "strokeWidth": 1.1}, "encoding": {"y": {"field": "m", "type": "quantitative", "axis": {"values": [500, 1000, 1500], "title": null, "minExtent": 38, "maxExtent": 38}}}}
   ]}
 ], "spacing": 0, "bounds": "flush"}
], "spacing": -6.5},
{"hconcat": [
 {"vconcat": [
  {"data": {"values": [{"n": "wine"}]}, "width": 279, "height": 18, "view": {"fill": "#c8c8c8", "stroke": null}, "mark": {"type": "text", "fontSize": 9, "color": "#1a1a1a"}, "encoding": {"text": {"field": "n"}}},
  {"width": 279, "height": 65, "transform": [{"filter": "datum.d === 'wine'"}],
   "encoding": {"x": {"field": "t", "type": "quantitative", "scale": {"domain": [-0.05, 1.05], "nice": false, "zero": false}, "axis": {"values": [0, 0.25, 0.5, 0.75, 1], "format": ".2f", "title": null}}},
   "layer": [
    {"mark": {"type": "area", "color": "#0000ff", "opacity": 0.2}, "encoding": {"y": {"field": "l", "type": "quantitative", "scale": {"zero": false, "nice": false, "padding": 2.95}, "axis": {"values": [900, 1000, 1100, 1200], "title": null, "minExtent": 26, "maxExtent": 26}}, "y2": {"field": "h"}}},
    {"mark": {"type": "line", "color": "#22225a", "strokeWidth": 1.1}, "encoding": {"y": {"field": "m", "type": "quantitative", "axis": {"values": [900, 1000, 1100, 1200], "title": null, "minExtent": 26, "maxExtent": 26}}}}
   ]}
 ], "spacing": 0, "bounds": "flush"},
 {"vconcat": [
  {"data": {"values": [{"n": "wisconsin"}]}, "width": 279, "height": 18, "view": {"fill": "#c8c8c8", "stroke": null}, "mark": {"type": "text", "fontSize": 9, "color": "#1a1a1a"}, "encoding": {"text": {"field": "n"}}},
  {"width": 279, "height": 65, "transform": [{"filter": "datum.d === 'wisconsin'"}],
   "encoding": {"x": {"field": "t", "type": "quantitative", "scale": {"domain": [-0.05, 1.05], "nice": false, "zero": false}, "axis": {"values": [0, 0.25, 0.5, 0.75, 1], "format": ".2f", "title": "Theta", "titleX": -18, "titleFontSize": 15, "titleFontWeight": "normal", "titleColor": "#000000", "titlePadding": 1}}},
   "layer": [
    {"mark": {"type": "area", "color": "#0000ff", "opacity": 0.2}, "encoding": {"y": {"field": "l", "type": "quantitative", "scale": {"zero": false, "nice": false, "padding": 2.95}, "axis": {"values": [5000, 10000, 15000, 20000], "title": null, "minExtent": 38, "maxExtent": 38}}, "y2": {"field": "h"}}},
    {"mark": {"type": "line", "color": "#22225a", "strokeWidth": 1.1}, "encoding": {"y": {"field": "m", "type": "quantitative", "axis": {"values": [5000, 10000, 15000, 20000], "title": null, "minExtent": 38, "maxExtent": 38}}}}
   ]}
 ], "spacing": 0, "bounds": "flush"}
], "spacing": -6.5}
],
"config": {
 "font": "Liberation Sans",
 "numberFormat": "d",
 "view": {"stroke": "#b3b3b3", "strokeWidth": 1},
 "text": {"font": "Liberation Sans"},
 "axis": {"labelFont": "Liberation Sans", "titleFont": "Liberation Sans", "labelFontSize": 9, "labelColor": "#4d4d4d", "tickColor": "#333333", "tickSize": 3, "labelPadding": 2, "domain": false, "gridColor": "#ebebeb", "gridWidth": 0.9, "labelOverlap": false, "labelFlush": false},
 "axisX": {"minExtent": 0}
}
}
